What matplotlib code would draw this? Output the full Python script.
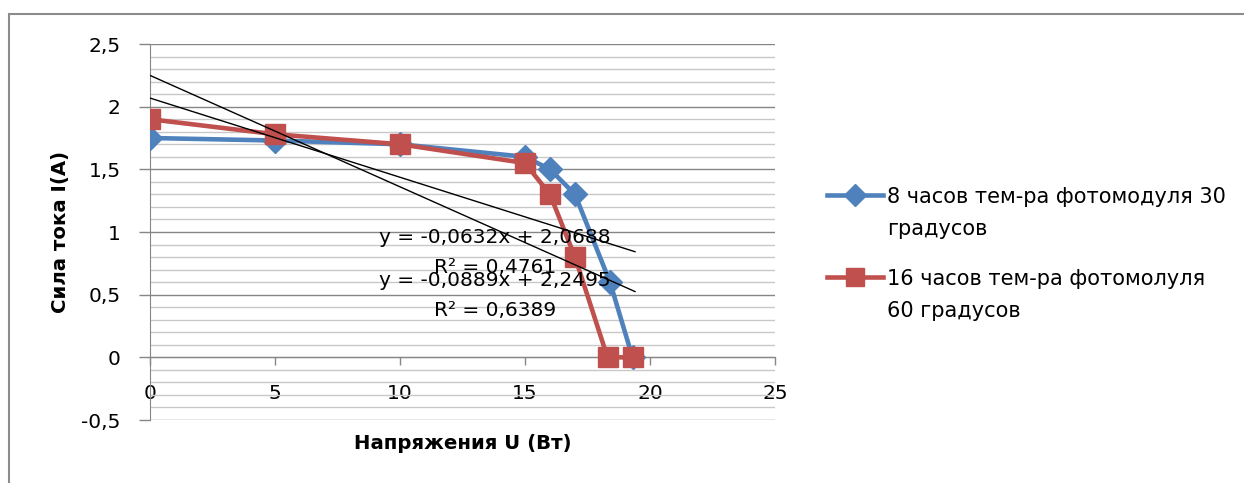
import matplotlib.pyplot as plt
import numpy as np
from matplotlib.patches import Rectangle
from matplotlib.lines import Line2D
from matplotlib.ticker import MultipleLocator, FuncFormatter

# data
u_8h = [0, 5, 10, 15, 16, 17, 18.4, 19.3]
i_8h = [1.75, 1.73, 1.70, 1.60, 1.50, 1.30, 0.60, 0.0]
u_16h = [0, 5, 10, 15, 16, 17, 18.3, 19.3]
i_16h = [1.90, 1.78, 1.70, 1.55, 1.30, 0.80, 0.0, 0.0]

# trendline coefficients (slope, intercept) and R² as printed on the chart
trend_8h = [-0.0632, 2.0688]
trend_16h = [-0.0889, 2.2495]
r2_8h = 0.4761
r2_16h = 0.6389

label_8h = '8 часов тем-ра фотомодуля 30\nградусов'
label_16h = '16 часов тем-ра фотомолуля\n60 градусов'

blue = '#4F81BD'
red = '#C0504D'

plt.rcParams['font.family'] = ['DejaVu Sans']

W, H = 1244, 483
def fx(px):
    return px / W
def fy(py):
    return 1 - py / H

fig = plt.figure(figsize=(W / 100, H / 100), dpi=100)
# chart area border (only left and top edges fall inside the picture)
fig.patches.append(Rectangle((fx(9), -0.05), fx(1300), fy(14) + 0.05,
                             transform=fig.transFigure, fill=False,
                             edgecolor='#8c8c8c', linewidth=1.5))

ax = fig.add_axes([fx(150), fy(420), fx(625), 376 / H])
ax.set_xlim(0, 25)
ax.set_ylim(-0.5, 2.5)

ax.yaxis.set_major_locator(MultipleLocator(0.5))
ax.yaxis.set_minor_locator(MultipleLocator(0.1))
ax.xaxis.set_major_locator(MultipleLocator(5))
ax.grid(which='major', axis='y', color='#868686', linewidth=1)
ax.grid(which='minor', axis='y', color='#c8c8c8', linewidth=1)
ax.set_axisbelow(True)

for s in ['top', 'right']:
    ax.spines[s].set_visible(False)
ax.spines['bottom'].set_position(('data', 0))
ax.spines['left'].set_color('#868686')
ax.spines['bottom'].set_color('#868686')
ax.tick_params(axis='both', colors='#868686', labelcolor='black', labelsize=14.5, width=1)
ax.tick_params(axis='y', which='minor', length=0)
ax.tick_params(axis='y', which='major', length=8, pad=13)
ax.tick_params(axis='x', length=6, pad=13)
fmt = FuncFormatter(lambda v, p: ('%g' % v).replace('.', ','))
ax.yaxis.set_major_formatter(fmt)
ax.xaxis.set_major_formatter(fmt)

ax.plot(u_8h, i_8h, color=blue, linewidth=3.3, marker='D', markersize=12.5, zorder=3)
ax.plot(u_16h, i_16h, color=red, linewidth=3.3, marker='s', markersize=14, zorder=4)

# linear trendlines
for coef, x_end in [(trend_8h, max(u_8h)), (trend_16h, max(u_16h))]:
    xs = np.array([0, x_end + 0.1])
    ax.plot(xs, coef[0] * xs + coef[1], color='black', linewidth=1, zorder=5)

def eq_text(c):
    return ('y = %.4fx + %.4f' % (c[0], c[1])).replace('.', ',')

def r2_text(r):
    return ('R² = %.4f' % r).replace('.', ',')

ax.text(13.8, 0.957, eq_text(trend_8h), fontsize=14.5, ha='center', va='center', zorder=6)
ax.text(13.8, 0.718, r2_text(r2_8h), fontsize=14.5, ha='center', va='center', zorder=6)
ax.text(13.8, 0.614, eq_text(trend_16h), fontsize=14.5, ha='center', va='center', zorder=6)
ax.text(13.8, 0.375, r2_text(r2_16h), fontsize=14.5, ha='center', va='center', zorder=6)

ax.set_xlabel('Напряжения U (Вт)', fontsize=14.2, fontweight='bold')
ax.xaxis.set_label_coords(0.5, -0.036)
ax.set_ylabel('Сила тока I(A)', fontsize=14.2, fontweight='bold')
ax.yaxis.set_label_coords(-0.128, 0.5)

# legend drawn by hand so that the key sits on the first text line
legend_rows = [(label_8h, blue, 'D', 11, 195), (label_16h, red, 's', 12.5, 277)]
for text, col, mk, ms, y in legend_rows:
    fig.add_artist(Line2D([fx(827), fx(855), fx(883)], [fy(y)] * 3,
                          transform=fig.transFigure, color=col, linewidth=3.3,
                          marker=mk, markersize=ms, markevery=[1]))
    for j, line in enumerate(text.split('\n')):
        fig.text(fx(887), fy(y + 2 + j * 32), line, fontsize=15,
                 ha='left', va='center')

fig.savefig('out.png', dpi=100)
